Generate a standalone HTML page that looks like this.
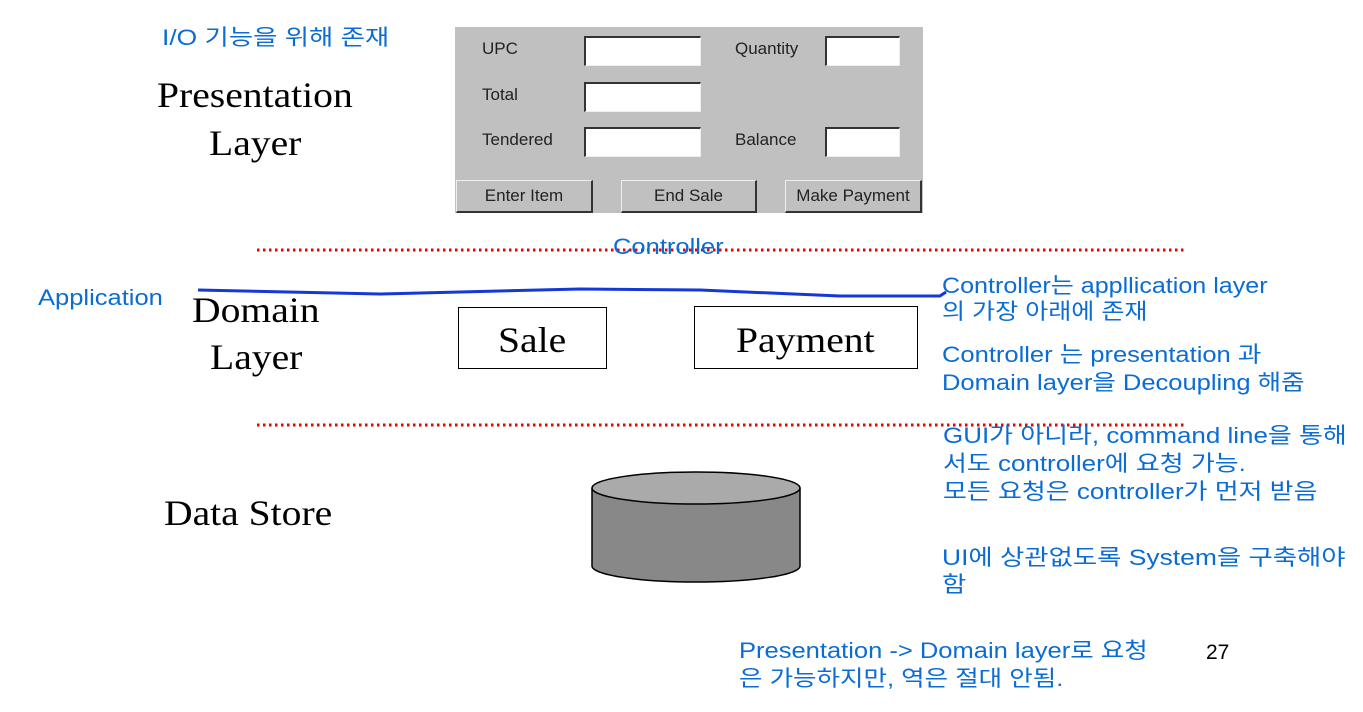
<!DOCTYPE html>
<html><head><meta charset="utf-8"><style>
body{margin:0;width:1363px;height:712px;background:#fff;position:relative;overflow:hidden;font-family:"Liberation Sans","Noto Sans CJK KR",sans-serif}
.a{position:absolute;white-space:nowrap}
.b{color:#0a6cd4;font-size:22px;line-height:27px;transform:scaleX(1.16);transform-origin:0 0}
.k{transform:scaleX(1.2)}
.s{font-family:"Liberation Serif",serif;font-size:36px;color:#000;transform:scaleX(1.1);transform-origin:0 0}
.g{font-size:17px;color:#222}
.f{position:absolute;background:#fff;border-top:2px solid #333;border-left:2px solid #333;border-bottom:1px solid #eee;border-right:1px solid #eee;height:27px}
.btn{position:absolute;top:180px;height:30px;border-right:2px solid #333;border-bottom:2px solid #333;border-top:1px solid #eee;border-left:1px solid #eee;font-size:17px;color:#222;text-align:center;line-height:30px;background:#c0c0c0}
</style></head><body>
<div class="a b k" style="left:162px;top:24px">I/O 기능을 위해 존재</div>
<div class="a s" style="left:157px;top:74px">Presentation</div>
<div class="a s" style="left:209px;top:122px">Layer</div>
<div class="a" style="left:455px;top:27px;width:468px;height:186px;background:#c0c0c0"></div>
<div class="a g" style="left:482px;top:39px">UPC</div>
<div class="a g" style="left:482px;top:85px">Total</div>
<div class="a g" style="left:482px;top:130px">Tendered</div>
<div class="a g" style="left:735px;top:39px">Quantity</div>
<div class="a g" style="left:735px;top:130px">Balance</div>
<div class="f" style="left:584px;top:36px;width:114px"></div>
<div class="f" style="left:584px;top:82px;width:114px"></div>
<div class="f" style="left:584px;top:127px;width:114px"></div>
<div class="f" style="left:825px;top:36px;width:72px"></div>
<div class="f" style="left:825px;top:127px;width:72px"></div>
<div class="btn" style="left:456px;width:134px">Enter Item</div>
<div class="btn" style="left:621px;width:133px">End Sale</div>
<div class="btn" style="left:785px;width:134px">Make Payment</div>
<svg class="a" style="left:0;top:0" width="1363" height="712">
<line x1="257" y1="250" x2="1185" y2="250" stroke="#e00" stroke-width="3" stroke-dasharray="2.5 3.5"/>
<line x1="257" y1="425" x2="1185" y2="425" stroke="#e00" stroke-width="3" stroke-dasharray="2.5 3.5"/>
<path d="M198 290 L380 294 L460 292 L580 289 L700 290 L840 296 L940 296 L946 292" fill="none" stroke="#1538d6" stroke-width="3"/>
<path d="M592 488 L592 566 A104 16 0 0 0 800 566 L800 488" fill="#888" stroke="#000" stroke-width="1.5"/>
<ellipse cx="696" cy="488" rx="104" ry="16" fill="#aaa" stroke="#000" stroke-width="1.5"/>
</svg>
<div class="a b" style="left:613px;top:233px">Controller</div>
<div class="a b" style="left:38px;top:284px">Application</div>
<div class="a s" style="left:192px;top:289px">Domain</div>
<div class="a s" style="left:210px;top:336px">Layer</div>
<div class="a" style="left:458px;top:307px;width:147px;height:60px;border:1.5px solid #000"></div>
<div class="a s" style="left:498px;top:319px">Sale</div>
<div class="a" style="left:694px;top:306px;width:222px;height:61px;border:1.5px solid #000"></div>
<div class="a s" style="left:736px;top:319px">Payment</div>
<div class="a s" style="left:164px;top:492px">Data Store</div>
<div class="a b" style="left:942px;top:273px;line-height:26px;transform:scaleX(1.14)">Controller는 appllication layer<br>의 가장 아래에 존재</div>
<div class="a b" style="left:942px;top:341px;line-height:28px">Controller 는 presentation 과<br>Domain layer을 Decoupling 해줌</div>
<div class="a b" style="left:943px;top:422px;line-height:28px;transform:scaleX(1.18)">GUI가 아니라, command line을 통해<br>서도 controller에 요청 가능.<br>모든 요청은 controller가 먼저 받음</div>
<div class="a b k" style="left:942px;top:544px;line-height:27px">UI에 상관없도록 System을 구축해야<br>함</div>
<div class="a b" style="left:739px;top:637px;line-height:28px">Presentation -&gt; Domain layer로 요청<br>은 가능하지만, 역은 절대 안됨.</div>
<div class="a" style="left:1206px;top:641px;font-size:21px">27</div>
</body></html>
